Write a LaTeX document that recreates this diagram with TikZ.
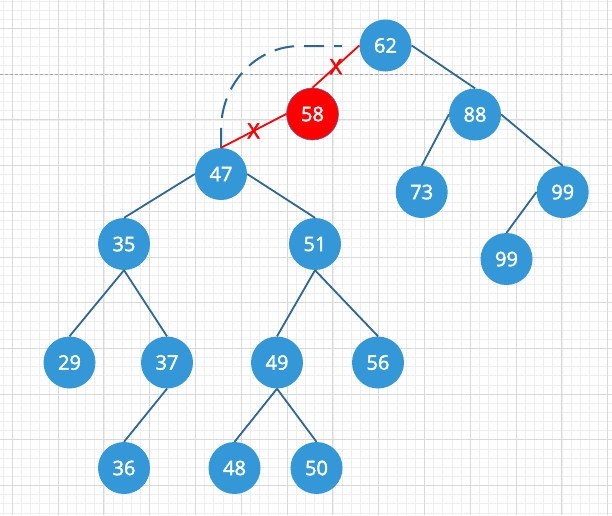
\documentclass[tikz,border=0pt]{standalone}
\usepackage{fontspec}
\setmainfont{Open Sans}
\newfontfamily\keyfont{Open Sans}[FakeBold=2]
\newfontfamily\crossfont{Open Sans}[FakeBold=2.5]
\usetikzlibrary{positioning}
\definecolor{nodeblue}{HTML}{3497D8}
\definecolor{edgeblue}{HTML}{2C6796}
\definecolor{hotred}{HTML}{FF0000}
\definecolor{rim}{HTML}{6A5A8E}
\definecolor{gridminor}{HTML}{EEEEEE}
\definecolor{gridmajor}{HTML}{D9D9D9}
\tikzset{key/.style={circle,fill=nodeblue,text=white,minimum size=52pt,inner sep=0pt,font=\keyfont\fontsize{20}{22}\selectfont},removed/.style={key,fill=hotred,draw=rim,line width=.6pt},link/.style={draw=edgeblue,line width=1.8pt},cut/.style={draw=hotred,line width=1.8pt},cross/.style={text=hotred,inner sep=0pt,font=\crossfont\fontsize{21}{22}\selectfont},oldlink/.style={draw=edgeblue,line width=2pt,dash pattern=on 20pt off 10pt}}

\begin{document}
\begin{tikzpicture}[x=1pt,y=-1pt]
\useasboundingbox[fill=white] (0,0) rectangle (612,515);
% grid
\foreach \i in {0,...,66} \draw[gridminor,line width=.6pt] ({3.04+9.16*\i},0) -- ({3.04+9.16*\i},515);
\foreach \i in {0,...,56} \draw[gridminor,line width=.6pt] (0,{1.0+9.14*\i}) -- (612,{1.0+9.14*\i});
\foreach \k in {0,...,13} \draw[gridmajor,line width=.8pt] ({12.2+45.8*\k},0) -- ({12.2+45.8*\k},515);
\foreach \k in {0,...,10} \draw[gridmajor,line width=.8pt] (0,{28.4+45.7*\k}) -- (612,{28.4+45.7*\k});
\draw[gray!70,line width=.8pt,dash pattern=on 3pt off 2pt] (0,74.1) -- (612,74.1);
% keys
\node[key] (k62) at (385.5,45.5) {62};
\node[removed] (k58) at (312.5,114) {58};
\node[key] (k88) at (475,114.5) {88};
\node[key] (k47) at (221,174) {47};
\node[key] (k73) at (421.7,192) {73};
\node[key] (k99) at (562.7,192) {99};
\node[key] (k99b) at (506.5,259) {99};
\node[key] (k35) at (124,244) {35};
\node[key] (k51) at (315,244) {51};
\node[key] (k29) at (69.5,362.5) {29};
\node[key] (k37) at (167,362.5) {37};
\node[key] (k49) at (277,362.5) {49};
\node[key] (k56) at (378,362.5) {56};
\node[key] (k36) at (124,468) {36};
\node[key] (k48) at (234.5,468) {48};
\node[key] (k50) at (316.5,468) {50};
\coordinate (gap) at (342,46);
% links
\draw[oldlink] (k47.north) -- (221,130) arc[start angle=180,end angle=270,x radius=79,y radius=84] -- (gap);
\draw[cut] (k62.west) -- node[cross]{X} (k58.north);
\draw[cut] (k58.west) -- node[cross]{X} (k47.north);
\draw[link] (k62.east) -- (k88.north);
\draw[link] (k88.west) -- (k73.north);
\draw[link] (k88.east) -- (k99.north);
\draw[link] (k99.west) -- (k99b.north);
\draw[link] (k47.west) -- (k35.north);
\draw[link] (k47.east) -- (k51.north);
\draw[link] (k35.south) -- (k29.north);
\draw[link] (k35.south) -- (k37.north);
\draw[link] (k37.south) -- (k36.north);
\draw[link] (k51.south) -- (k49.north);
\draw[link] (k51.south) -- (k56.north);
\draw[link] (k49.south) -- (k48.north);
\draw[link] (k49.south) -- (k50.north);
\end{tikzpicture}
\end{document}
